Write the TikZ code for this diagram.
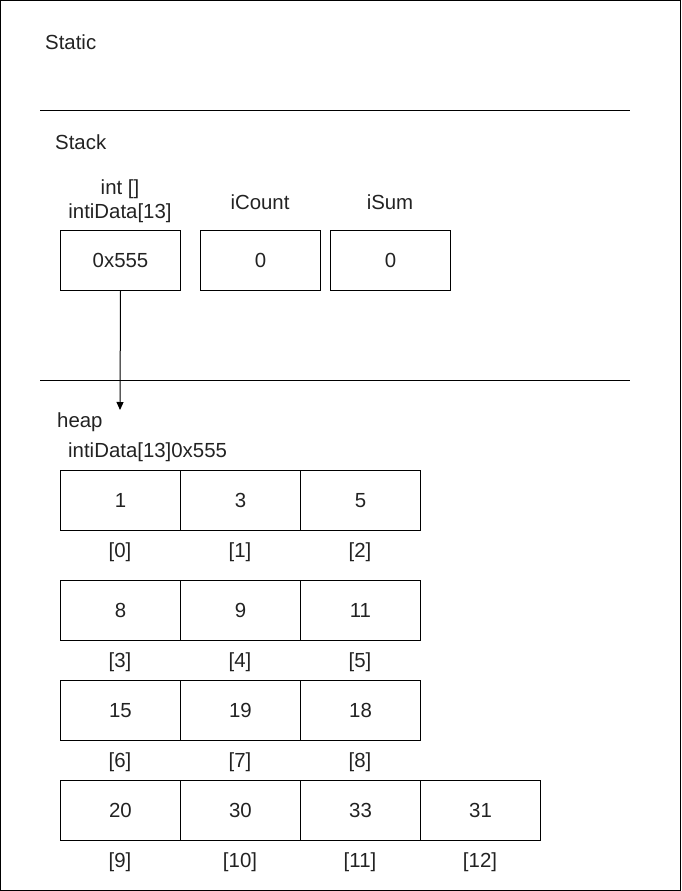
\documentclass[tikz,border=0pt]{standalone}
\usepackage{fontspec}
\setmainfont{Liberation Sans}
\usetikzlibrary{arrows.meta}
\definecolor{txt}{HTML}{222222}
\newcommand\rv[1]{\raisebox{-1pt}{#1}}
\begin{document}
\begin{tikzpicture}[x=1pt,y=-1pt,
  every node/.style={font=\fontsize{20.4}{24}\selectfont, text=txt, inner sep=0pt},
  cell/.style={draw=black, line width=1pt, minimum width=120pt, minimum height=60pt, anchor=north west},
  sep/.style={line width=1pt},
  ptr/.style={line width=1pt, -{Triangle[length=8pt,width=7pt]}}]
\useasboundingbox (0,0) rectangle (681,891);
\draw[line width=1.2pt] (0.6,0.6) rectangle (680.4,890.4);
% separators
\coordinate (s1a) at (40,110); \coordinate (s1b) at (630,110);
\coordinate (s2a) at (40,380); \coordinate (s2b) at (630,380);
\draw[sep] (s1a) -- (s1b);
\draw[sep] (s2a) -- (s2b);
% static
\node[anchor=west] (static) at (45,42) {Static};
% stack
\node[anchor=west] (stack) at (55,142) {Stack};
\node[align=center] (lab1) at (120,201) {int []\\intiData[13]};
\node (lab2) at (260,202) {iCount};
\node (lab3) at (390,202) {iSum};
\node[cell] (v1) at (60,230) {\rv{0x555}};
\node[cell] (v2) at (200,230) {\rv{0}};
\node[cell] (v3) at (330,230) {\rv{0}};
% heap
\node[anchor=west] (heap) at (57,422) {heap};
\node[anchor=west] (hname) at (68,452) {intiData[13]0x555};
\coordinate (tip) at (120,410);
\draw[ptr] (v1.south) -- (tip);
% rows
\node[cell] (c0) at (60,470) {\rv{1}};
\node[cell] (c1) at (180,470) {\rv{3}};
\node[cell] (c2) at (300,470) {\rv{5}};
\node[cell] (c3) at (60,580) {\rv{8}};
\node[cell] (c4) at (180,580) {\rv{9}};
\node[cell] (c5) at (300,580) {\rv{11}};
\node[cell] (c6) at (60,680) {\rv{15}};
\node[cell] (c7) at (180,680) {\rv{19}};
\node[cell] (c8) at (300,680) {\rv{18}};
\node[cell] (c9) at (60,780) {\rv{20}};
\node[cell] (c10) at (180,780) {\rv{30}};
\node[cell] (c11) at (300,780) {\rv{33}};
\node[cell] (c12) at (420,780) {\rv{31}};
% indices
\node (i0) at (120,552) {[0]};
\node (i1) at (240,552) {[1]};
\node (i2) at (360,552) {[2]};
\node (i3) at (120,662) {[3]};
\node (i4) at (240,662) {[4]};
\node (i5) at (360,662) {[5]};
\node (i6) at (120,762) {[6]};
\node (i7) at (240,762) {[7]};
\node (i8) at (360,762) {[8]};
\node (i9) at (120,862) {[9]};
\node (i10) at (240,862) {[10]};
\node (i11) at (360,862) {[11]};
\node (i12) at (480,862) {[12]};
\end{tikzpicture}
\end{document}
